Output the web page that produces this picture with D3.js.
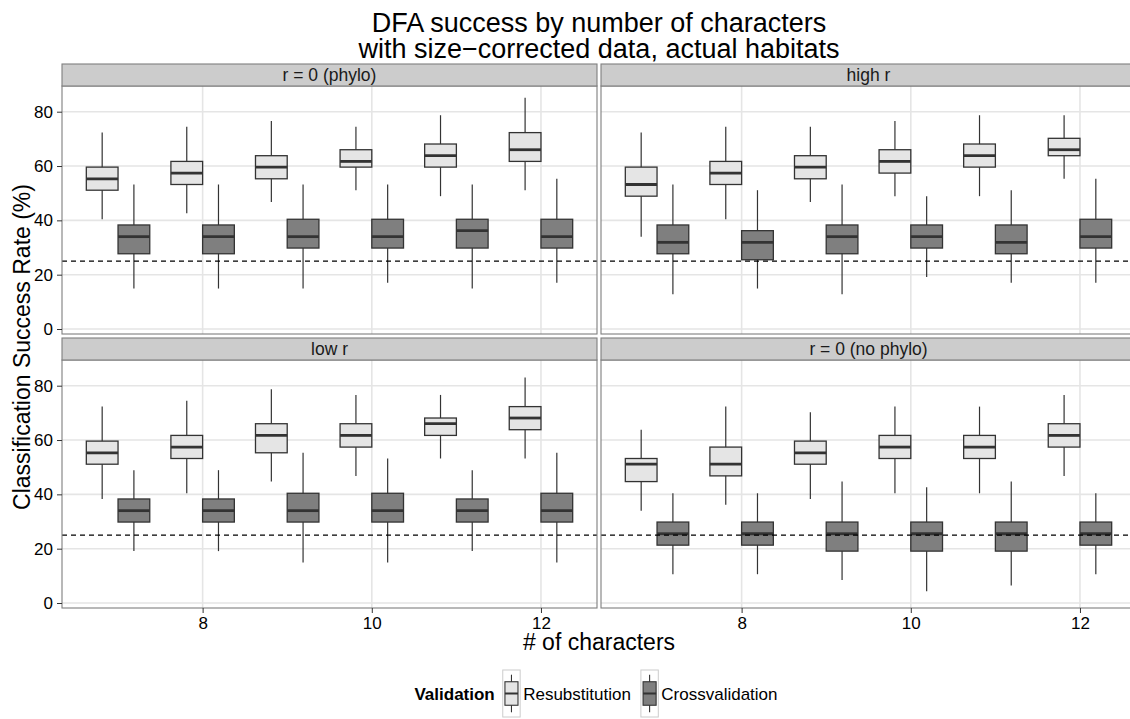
<html>
<head>
<script src="https://cdnjs.cloudflare.com/ajax/libs/d3/7.8.5/d3.min.js"></script>
<meta charset="utf-8">
<title>DFA success</title>
<style>
  body { margin: 0; background: #fff; }
  text { font-family: "Liberation Sans", Arial, Helvetica, sans-serif; }
</style>
</head>
<body>
<script type="text/javascript">

// data: [whisker low, Q1, median, Q3, whisker high] per number of characters
var chars = [7, 8, 9, 10, 11, 12];
var xTicks = [8, 10, 12];
var yTicks = [0, 20, 40, 60, 80];
var panelNames = ["r = 0 (phylo)", "high r", "low r", "r = 0 (no phylo)"];
var validation = ["Resubstitution", "Crossvalidation"];
var chance = 25;

var phyloResub = [[40.4,51.1,55.3,59.6,72.3],[42.6,53.2,57.4,61.7,74.5],[46.8,55.3,59.6,63.8,76.6],
                  [51.1,59.6,61.7,66.0,74.5],[48.9,59.6,63.8,68.1,78.7],[51.1,61.7,66.0,72.3,85.1]];
var phyloCross = [[14.9,27.7,34.0,38.3,53.2],[14.9,27.7,34.0,38.3,53.2],[14.9,29.8,34.0,40.4,53.2],
                  [17.0,29.8,34.0,40.4,53.2],[14.9,29.8,36.2,40.4,53.2],[17.0,29.8,34.0,40.4,55.3]];
var highResub  = [[34.0,48.9,53.2,59.6,72.3],[40.4,53.2,57.4,61.7,74.5],[46.8,55.3,59.6,63.8,74.5],
                  [48.9,57.4,61.7,66.0,76.6],[48.9,59.6,63.8,68.1,78.7],[55.3,63.8,66.0,70.2,78.7]];
var highCross  = [[12.8,27.7,31.9,38.3,53.2],[14.9,25.5,31.9,36.2,51.1],[12.8,27.7,34.0,38.3,53.2],
                  [19.1,29.8,34.0,38.3,48.9],[17.0,27.7,31.9,38.3,51.1],[17.0,29.8,34.0,40.4,55.3]];
var lowResub   = [[38.3,51.1,55.3,59.6,72.3],[40.4,53.2,57.4,61.7,74.5],[44.7,55.3,61.7,66.0,78.7],
                  [46.8,57.4,61.7,66.0,76.6],[53.2,61.7,66.0,68.1,76.6],[53.2,63.8,68.1,72.3,83.0]];
var lowCross   = [[19.1,29.8,34.0,38.3,48.9],[19.1,29.8,34.0,38.3,48.9],[14.9,29.8,34.0,40.4,55.3],
                  [14.9,29.8,34.0,40.4,53.2],[19.1,29.8,34.0,38.3,48.9],[14.9,29.8,34.0,40.4,55.3]];
var nophyResub = [[34.0,44.7,51.1,53.2,63.8],[36.2,46.8,51.1,57.4,72.3],[38.3,51.1,55.3,59.6,70.2],
                  [40.4,53.2,57.4,61.7,72.3],[40.4,53.2,57.4,61.7,72.3],[46.8,57.4,61.7,66.0,76.6]];
var nophyCross = [[10.6,21.3,25.5,29.8,40.4],[10.6,21.3,25.5,29.8,40.4],[8.5,19.1,25.5,29.8,44.7],
                  [4.3,19.1,25.5,29.8,42.6],[6.4,19.1,25.5,29.8,44.7],[10.6,21.3,25.5,29.8,40.4]];

var panelData = [[phyloResub, phyloCross], [highResub, highCross],
                 [lowResub, lowCross], [nophyResub, nophyCross]];

var w = 1130, h = 719;
var fills = ["#e5e5e5", "#7f7f7f"];
var boxW = 0.375;              // width of one dodged box, in x units
var stripH = 22;
var panelX = [[62, 597], [601, 1136]];
var panelY = [[86, 334], [360, 608]];

var svg = d3.select("body").append("svg")
  .attr("width", w).attr("height", h);

svg.append("defs").selectAll("clipPath")
  .data(d3.range(4)).enter()
  .append("clipPath").attr("id", function(d) { return "clip" + d; })
  .append("rect")
  .attr("x", function(d) { return panelX[d % 2][0]; })
  .attr("y", function(d) { return panelY[Math.floor(d / 2)][0]; })
  .attr("width", function(d) { return panelX[d % 2][1] - panelX[d % 2][0]; })
  .attr("height", function(d) { return panelY[Math.floor(d / 2)][1] - panelY[Math.floor(d / 2)][0]; });

panelNames.forEach(function(name, p) {
  var col = p % 2, row = Math.floor(p / 2);
  var x0 = panelX[col][0], x1 = panelX[col][1];
  var y0 = panelY[row][0], y1 = panelY[row][1];

  var x = d3.scaleLinear().domain([6.3375, 12.6625]).range([x0, x1]);
  var y = d3.scaleLinear().domain([-1.84, 89.46]).range([y1, y0]);

  var g = svg.append("g");
  var inner = g.append("g").attr("clip-path", "url(#clip" + p + ")");

  // grid
  inner.selectAll(".gy").data(yTicks).enter().append("line")
    .attr("x1", x0).attr("x2", x1)
    .attr("y1", function(d) { return y(d); }).attr("y2", function(d) { return y(d); })
    .attr("stroke", "#e5e5e5").attr("stroke-width", 1.6);
  inner.selectAll(".gx").data(xTicks).enter().append("line")
    .attr("y1", y0).attr("y2", y1)
    .attr("x1", function(d) { return x(d); }).attr("x2", function(d) { return x(d); })
    .attr("stroke", "#e5e5e5").attr("stroke-width", 1.6);

  // boxes
  panelData[p].forEach(function(series, s) {
    var off = (s === 0 ? -1 : 1) * boxW / 2;
    var bx = inner.selectAll(".b" + s).data(series).enter().append("g");
    bx.append("line")
      .attr("x1", function(d, i) { return x(chars[i] + off); })
      .attr("x2", function(d, i) { return x(chars[i] + off); })
      .attr("y1", function(d) { return y(d[0]); })
      .attr("y2", function(d) { return y(d[4]); })
      .attr("stroke", "#333").attr("stroke-width", 1.2);
    bx.append("rect")
      .attr("x", function(d, i) { return x(chars[i] + off - boxW / 2); })
      .attr("width", function(d, i) { return x(chars[i] + boxW) - x(chars[i]); })
      .attr("y", function(d) { return y(d[3]); })
      .attr("height", function(d) { return y(d[1]) - y(d[3]); })
      .attr("fill", fills[s]).attr("stroke", "#333").attr("stroke-width", 1.3);
    bx.append("line")
      .attr("x1", function(d, i) { return x(chars[i] + off - boxW / 2); })
      .attr("x2", function(d, i) { return x(chars[i] + off + boxW / 2); })
      .attr("y1", function(d) { return y(d[2]); })
      .attr("y2", function(d) { return y(d[2]); })
      .attr("stroke", "#333").attr("stroke-width", 2.8);
  });

  // chance line
  inner.append("line")
    .attr("x1", x0).attr("x2", x1)
    .attr("y1", y(chance)).attr("y2", y(chance))
    .attr("stroke", "#000").attr("stroke-width", 1.2)
    .attr("stroke-dasharray", "5,4");

  // border
  g.append("rect").attr("x", x0).attr("y", y0)
    .attr("width", x1 - x0).attr("height", y1 - y0)
    .attr("fill", "none").attr("stroke", "#7f7f7f").attr("stroke-width", 1.1);

  // strip
  g.append("rect").attr("x", x0).attr("y", y0 - stripH)
    .attr("width", x1 - x0).attr("height", stripH)
    .attr("fill", "#cccccc").attr("stroke", "#7f7f7f").attr("stroke-width", 1.1);
  g.append("text").attr("x", (x0 + x1) / 2).attr("y", y0 - stripH / 2 + 6)
    .attr("text-anchor", "middle").attr("font-size", "17.5px").attr("fill", "#1a1a1a")
    .text(name);

  // axes
  if (col === 0) {
    var ay = g.append("g").attr("transform", "translate(" + x0 + ",0)")
      .call(d3.axisLeft(y).tickValues(yTicks).tickSize(5).tickPadding(4));
    ay.select(".domain").remove();
    ay.selectAll("text").attr("font-size", "17px").attr("fill", "#000")
      .attr("font-family", "Liberation Sans, Arial, sans-serif");
    ay.selectAll("line").attr("stroke", "#333");
  }
  if (row === 1) {
    var ax = g.append("g").attr("transform", "translate(0," + y1 + ")")
      .call(d3.axisBottom(x).tickValues(xTicks).tickFormat(d3.format("d"))
        .tickSize(5).tickPadding(4));
    ax.select(".domain").remove();
    ax.selectAll("text").attr("font-size", "17px").attr("fill", "#000")
      .attr("font-family", "Liberation Sans, Arial, sans-serif");
    ax.selectAll("line").attr("stroke", "#333");
  }
});

// titles
var cx = (panelX[0][0] + panelX[1][1]) / 2;
svg.append("text").attr("x", cx).attr("y", 32).attr("text-anchor", "middle")
  .attr("font-size", "27px").text("DFA success by number of characters");
svg.append("text").attr("x", cx).attr("y", 58).attr("text-anchor", "middle")
  .attr("font-size", "27px").text("with size\u2212corrected data, actual habitats");
svg.append("text").attr("x", cx).attr("y", 650).attr("text-anchor", "middle")
  .attr("font-size", "23px").text("# of characters");
svg.append("text")
  .attr("transform", "translate(30," + ((panelY[0][0] + panelY[1][1]) / 2) + ") rotate(-90)")
  .attr("text-anchor", "middle").attr("font-size", "23px")
  .text("Classification Success Rate (%)");

// legend
var leg = svg.append("g");
var legY = 670, keyH = 47, keyW = 17.4, legMid = legY + keyH / 2;
var lt = leg.append("text").attr("y", legMid + 6).attr("font-size", "17px")
  .attr("font-weight", "bold").text("Validation");
var items = validation.map(function(v) {
  return leg.append("text").attr("y", legMid + 6).attr("font-size", "17px").text(v);
});
var tw = lt.node().getComputedTextLength();
var iw = items.map(function(t) { return t.node().getComputedTextLength(); });
var total = tw + 8 + keyW + 3 + iw[0] + 10 + keyW + 3 + iw[1];
var lx = cx - 3 - total / 2;
lt.attr("x", lx);
lx += tw + 8;
validation.forEach(function(v, i) {
  leg.append("rect").attr("x", lx).attr("y", legY).attr("width", keyW).attr("height", keyH)
    .attr("fill", "#fff").attr("stroke", "#cccccc").attr("stroke-width", 1);
  var kx = lx + keyW / 2;
  leg.append("line").attr("x1", kx).attr("x2", kx)
    .attr("y1", legY + keyH * 0.1).attr("y2", legY + keyH * 0.9)
    .attr("stroke", "#333").attr("stroke-width", 1.1);
  leg.append("rect").attr("x", lx + keyW * 0.125).attr("y", legY + keyH * 0.25)
    .attr("width", keyW * 0.75).attr("height", keyH * 0.5)
    .attr("fill", fills[i]).attr("stroke", "#333").attr("stroke-width", 1.1);
  leg.append("line").attr("x1", lx + keyW * 0.125).attr("x2", lx + keyW * 0.875)
    .attr("y1", legMid).attr("y2", legMid)
    .attr("stroke", "#333").attr("stroke-width", 2);
  items[i].attr("x", lx + keyW + 3);
  lx += keyW + 3 + iw[i] + 10;
});

</script>
</body>
</html>
